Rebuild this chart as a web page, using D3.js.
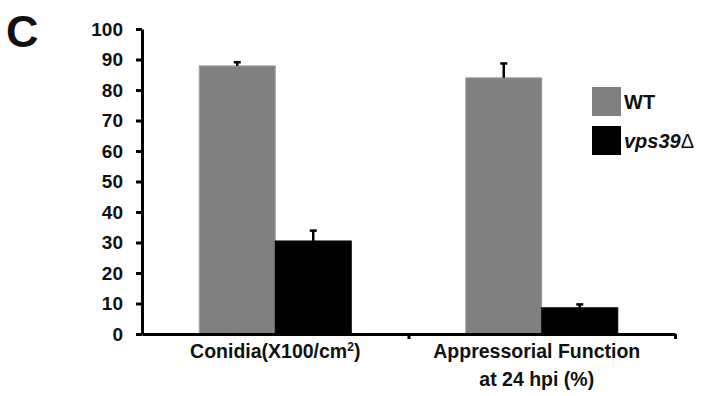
<!DOCTYPE html>
<html>
<head>
<meta charset="utf-8">
<script src="https://cdn.jsdelivr.net/npm/d3@7"></script>
<style>
  body { margin: 0; background: #fff; }
  text { font-family: Arial, "Liberation Sans", sans-serif; font-weight: bold; fill: #111; }
</style>
</head>
<body>
<div id="chart"></div>
<script>
// data
var categories = ["Conidia", "Appressorial"];
var seriesNames = ["WT", "vps39Δ"];
var wtValues = [87.9, 84.0];
var wtErrors = [1.2, 4.7];
var mutValues = [30.5, 8.6];
var mutErrors = [3.4, 1.1];
var yTicks = [0, 10, 20, 30, 40, 50, 60, 70, 80, 90, 100];

var width = 702, height = 396;
// plot area edges
var plotLeft = 142, plotRight = 675, plotTop = 29, plotBottom = 334;

var svg = d3.select("#chart").append("svg")
  .attr("width", width)
  .attr("height", height);

// panel letter
svg.append("text")
  .attr("x", 6)
  .attr("y", 47)
  .style("font-size", "45px")
  .text("C");

var x = d3.scaleBand().domain(categories).range([plotLeft, plotRight]);
var y = d3.scaleLinear().domain([0, 100]).range([plotBottom, plotTop]);

var bars = [];
categories.forEach(function (c, i) {
  bars.push({ cat: c, s: 0, v: wtValues[i], e: wtErrors[i] });
  bars.push({ cat: c, s: 1, v: mutValues[i], e: mutErrors[i] });
});

var barW = 76;
function barX(d) {
  return x(d.cat) + x.bandwidth() / 2 - barW + d.s * barW;
}
var colors = ["#808080", "#000000"];

svg.selectAll("rect.bar")
  .data(bars)
  .enter()
  .append("rect")
  .attr("class", "bar")
  .attr("x", barX)
  .attr("width", barW)
  .attr("y", function (d) { return y(d.v); })
  .attr("height", function (d) { return y(0) - y(d.v); })
  .attr("fill", function (d) { return colors[d.s]; })
  .attr("stroke", function (d) { return d.s === 0 ? "#a0a0a0" : "#000"; })
  .attr("stroke-width", 1);

// error bars (upper only)
var err = svg.selectAll("g.err").data(bars).enter().append("g").attr("class", "err");
err.append("line")
  .attr("x1", function (d) { return barX(d) + barW / 2; })
  .attr("x2", function (d) { return barX(d) + barW / 2; })
  .attr("y1", function (d) { return y(d.v); })
  .attr("y2", function (d) { return y(d.v + d.e); })
  .attr("stroke", "#000")
  .attr("stroke-width", 2.5);
err.append("line")
  .attr("x1", function (d) { return barX(d) + barW / 2 - 3.5; })
  .attr("x2", function (d) { return barX(d) + barW / 2 + 3.5; })
  .attr("y1", function (d) { return y(d.v + d.e); })
  .attr("y2", function (d) { return y(d.v + d.e); })
  .attr("stroke", "#000")
  .attr("stroke-width", 2.5);

// y axis
var yAxis = svg.append("g")
  .attr("transform", "translate(" + plotLeft + ",0)")
  .call(d3.axisLeft(y).tickValues(yTicks).tickSize(6).tickPadding(13).tickSizeOuter(0));
yAxis.select(".domain").attr("stroke", "#000").attr("stroke-width", 3);
yAxis.selectAll(".tick line").attr("stroke", "#000").attr("stroke-width", 3);
yAxis.selectAll(".tick text")
  .style("font-size", "19px")
  .style("font-family", "Arial, 'Liberation Sans', sans-serif")
  .style("font-weight", "bold")
  .attr("fill", "#111");

// x axis
var xAxis = svg.append("g")
  .attr("transform", "translate(0," + plotBottom + ")")
  .call(d3.axisBottom(d3.scaleLinear().domain([0, 2]).range([plotLeft, plotRight]))
    .tickValues([1, 2]).tickSize(5).tickFormat("").tickSizeOuter(0));
xAxis.select(".domain").attr("stroke", "#000").attr("stroke-width", 3);
xAxis.selectAll(".tick line").attr("stroke", "#000").attr("stroke-width", 3);

// category labels
var lab1 = svg.append("text")
  .attr("x", x(categories[0]) + x.bandwidth() / 2)
  .attr("y", 358)
  .attr("text-anchor", "middle")
  .style("font-size", "19.5px");
lab1.append("tspan").text("Conidia(X100/cm");
lab1.append("tspan").attr("dy", -7).style("font-size", "12px").text("2");
lab1.append("tspan").attr("dy", 7).text(")");

var cx2 = x(categories[1]) + x.bandwidth() / 2 - 5;
svg.append("text")
  .attr("x", cx2).attr("y", 358)
  .attr("text-anchor", "middle")
  .style("font-size", "19.5px")
  .text("Appressorial Function");
svg.append("text")
  .attr("x", cx2).attr("y", 386)
  .attr("text-anchor", "middle")
  .style("font-size", "19.5px")
  .text("at 24 hpi (%)");

// legend
var legend = svg.append("g").attr("transform", "translate(592,87)");
seriesNames.forEach(function (name, i) {
  var g = legend.append("g").attr("transform", "translate(0," + i * 39 + ")");
  g.append("rect").attr("width", 29).attr("height", 29).attr("fill", colors[i]);
  var t = g.append("text").attr("x", 32).attr("y", 22).style("font-size", "20px");
  if (i === 0) {
    t.text(name);
  } else {
    t.append("tspan").style("font-style", "italic").text("vps39");
    t.append("tspan").style("font-weight", "normal").text("Δ");
  }
});
</script>
</body>
</html>
